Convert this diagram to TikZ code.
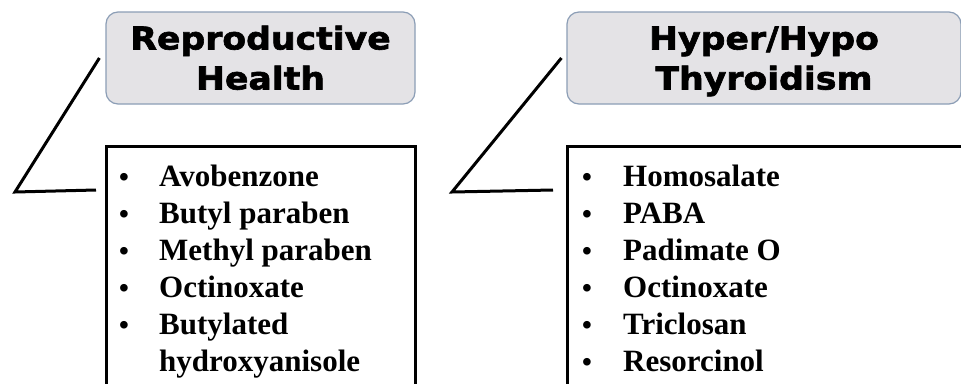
\documentclass[tikz,border=0pt]{standalone}
\usepackage{fontspec}
\setmainfont{Liberation Serif}
\newfontfamily\hfont[FakeStretch=1.1,BoldFeatures={FakeBold=2}]{DejaVu Sans}
\definecolor{hdrfill}{RGB}{228,227,230}
\definecolor{hdrborder}{RGB}{140,158,182}
\newcommand{\blt}{{\fontsize{28}{37}\selectfont\textbullet}}
\begin{document}
\begin{tikzpicture}[x=1pt,y=-1pt]
\tikzset{
  hdr/.style={draw=hdrborder, fill=hdrfill, rounded corners=12pt, line width=1.2pt,
    inner sep=0pt, align=center, text height=63pt, text depth=0pt,
    font=\hfont\bfseries\fontsize{31.5}{40}\selectfont},
  listbox/.style={draw=black, line width=3pt, inner sep=0pt},
  listtext/.style={inner sep=0pt, anchor=base west, font=\bfseries\fontsize{31}{37}\selectfont},
  conn/.style={draw=black, line width=3pt}
}
\useasboundingbox (0,0) rectangle (961,383);
\clip (0,0) rectangle (961,383);
\fill[white] (0,0) rectangle (961,383);

% headers
\node[hdr, minimum width=309pt, minimum height=92pt] (hdrL) at (260.5,58) {Reproductive\\Health};
\node[hdr, minimum width=394pt, minimum height=92pt] (hdrR) at (764,58) {Hyper/Hypo\\Thyroidism};

% list boxes
\node[listbox, minimum width=309pt, minimum height=274pt] (listL) at (260.5,283) {};
\node[listbox, minimum width=433pt, minimum height=274pt] (listR) at (783.5,283) {};

% list texts
\node[listtext] (textL) at (119,186) {%
  \begin{tabular}[t]{@{}p{40pt}@{}l@{}}
  \blt & Avobenzone\\
  \blt & Butyl paraben\\
  \blt & Methyl paraben\\
  \blt & Octinoxate\\
  \blt & Butylated\\
       & hydroxyanisole
  \end{tabular}};
\node[listtext] (textR) at (582,186) {%
  \begin{tabular}[t]{@{}p{41pt}@{}l@{}}
  \blt & Homosalate\\
  \blt & PABA\\
  \blt & Padimate O\\
  \blt & Octinoxate\\
  \blt & Triclosan\\
  \blt & Resorcinol
  \end{tabular}};

% connectors
\coordinate (lTop) at ([xshift=-6pt]hdrL.west);
\coordinate (lCorner) at (15,192);
\coordinate (lEnd) at (96,190);
\draw[conn] (lTop) -- (lCorner) -- (lEnd);
\coordinate (rTop) at ([xshift=-5pt]hdrR.west);
\coordinate (rCorner) at (452,192);
\coordinate (rEnd) at (553,190);
\draw[conn] (rTop) -- (rCorner) -- (rEnd);
\end{tikzpicture}
\end{document}
